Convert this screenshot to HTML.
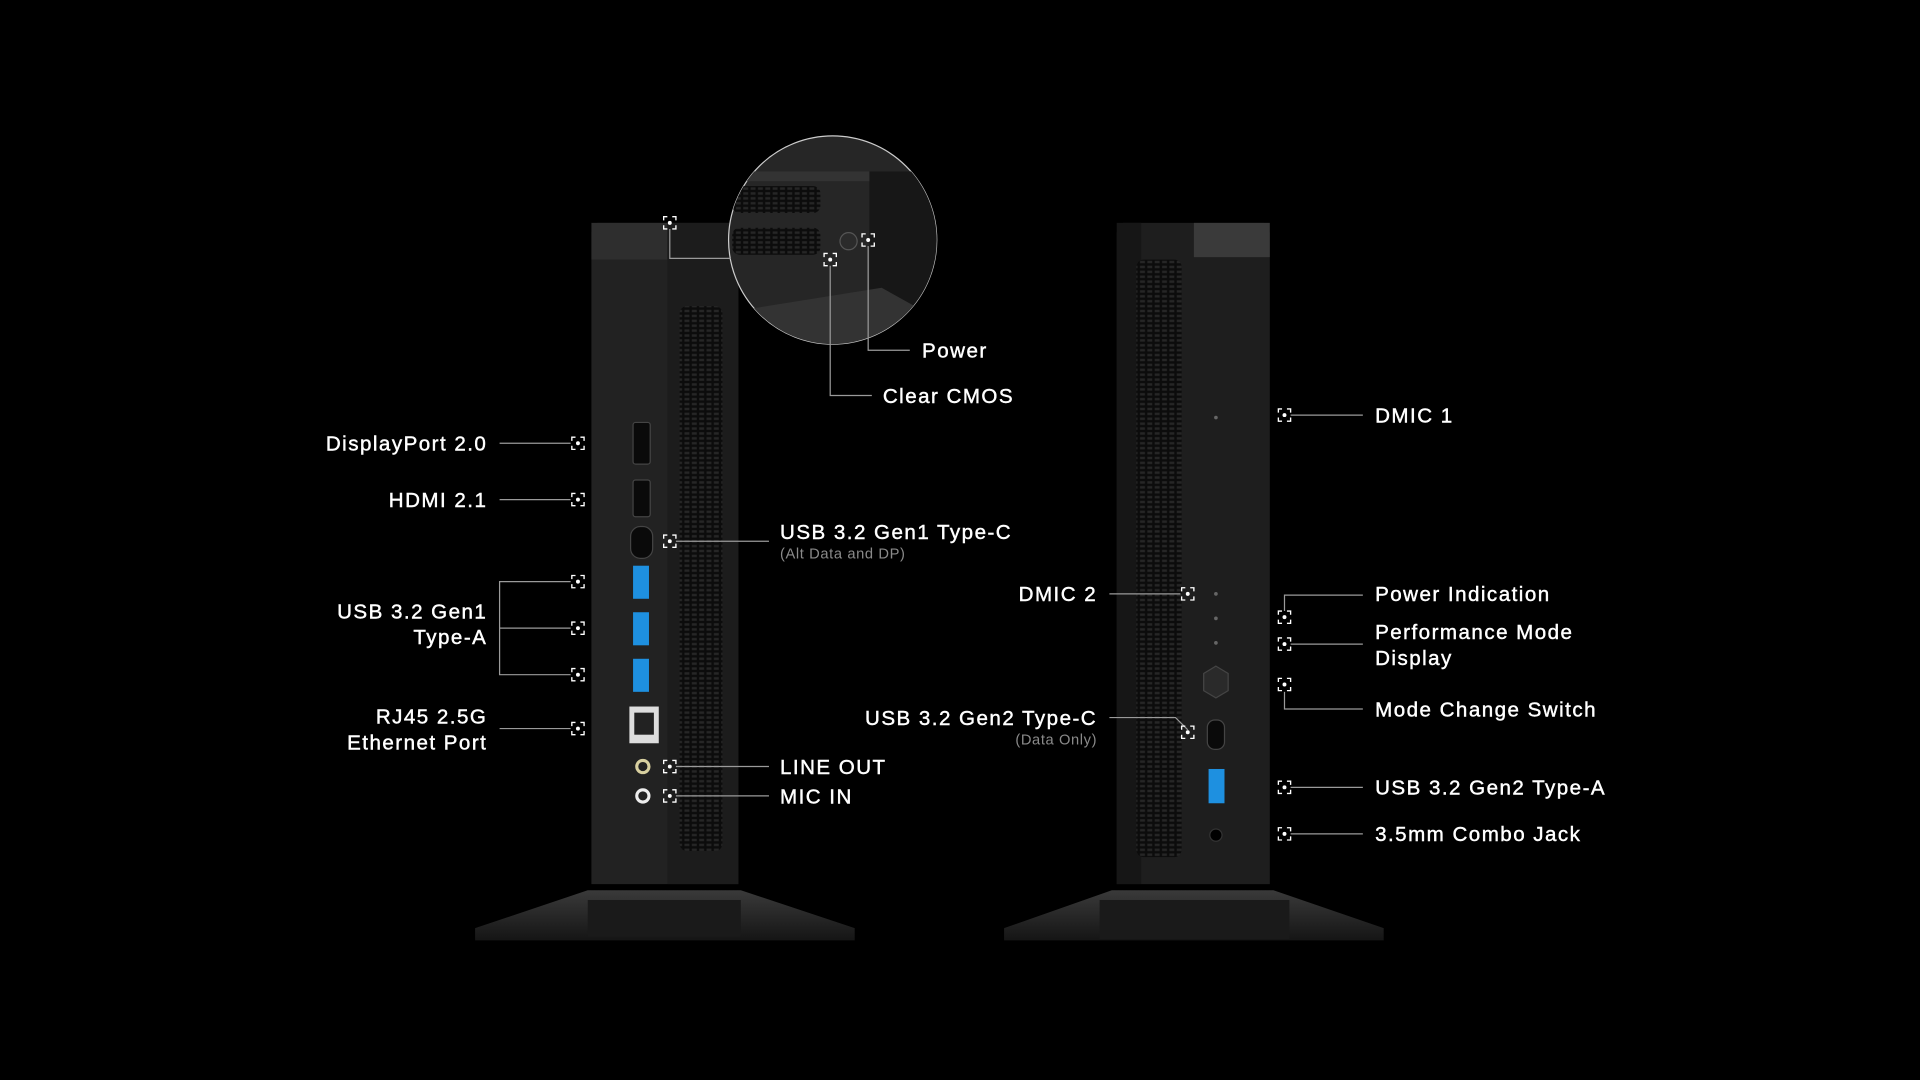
<!DOCTYPE html>
<html><head><meta charset="utf-8"><style>
html,body{margin:0;padding:0;background:#000;width:1920px;height:1080px;overflow:hidden}
svg{display:block}
text{font-family:"Liberation Sans",sans-serif;fill:#fff;font-size:16.8px;letter-spacing:1.2px;stroke:#fff;stroke-width:0.35px}
.s{fill:#8a8a8a;stroke:none;font-size:12px;letter-spacing:0.5px}
.l{stroke:#9a9a9a;stroke-width:1;fill:none}
</style></head><body>
<svg width="1920" height="1080" viewBox="0 0 1568 882" xmlns="http://www.w3.org/2000/svg">
<defs>
<symbol id="m" viewBox="-6 -6 12 12" overflow="visible">
<path d="M-5,-2 V-5 H-2 M2,-5 H5 V-2 M5,2 V5 H2 M-2,5 H-5 V2" stroke="#fff" stroke-width="1.1" fill="none"/>
<circle r="1.6" fill="#fff"/>
</symbol>
<pattern id="v" width="6" height="4" patternUnits="userSpaceOnUse">
<rect width="6" height="4" fill="#0c0c0c"/><rect x="1" y="1" width="4" height="2" fill="#262626"/>
</pattern>
<linearGradient id="bs" x1="0" y1="0" x2="0" y2="1"><stop offset="0" stop-color="#3a3a3a"/><stop offset="1" stop-color="#151515"/></linearGradient>
<clipPath id="c"><circle cx="680" cy="196" r="85"/></clipPath>
</defs>
<rect width="1568" height="882" fill="#000"/>

<!-- LEFT TOWER -->
<path d="M388,758 L480,727 L605,727 L698,758 L698,768 L388,768 Z" fill="url(#bs)"/>
<rect x="480" y="735" width="125" height="30" fill="#1a1a1a"/>
<path d="M488,182 L598,182 L603,190 L603,722 L483,722 L483,190 Z" fill="#222"/>
<rect x="483" y="182" width="62" height="30" fill="#2e2e2e"/>
<rect x="545" y="182" width="58" height="540" fill="#1c1c1c"/>
<rect x="555" y="250" width="35" height="445" rx="6" fill="url(#v)"/>
<g fill="#0a0a0a" stroke="#444" stroke-width="1">
<rect x="517" y="345" width="14" height="34" rx="2"/>
<rect x="517" y="392" width="14" height="30" rx="2"/>
<rect x="515" y="430" width="18" height="26" rx="8"/>
</g>
<g fill="#1e90e0"><rect x="517" y="462" width="13" height="27"/><rect x="517" y="500" width="13" height="27"/><rect x="517" y="538" width="13" height="27"/></g>
<rect x="514" y="577" width="24" height="30" fill="#ddd"/><rect x="518" y="582" width="16" height="18" fill="#222"/>
<circle cx="525" cy="626" r="5" fill="none" stroke="#d8d0a0" stroke-width="2.5"/>
<circle cx="525" cy="650" r="5" fill="none" stroke="#eee" stroke-width="2.5"/>

<!-- zoom circle -->
<circle cx="680" cy="196" r="85" fill="#262626" stroke="#ccc" stroke-width="1"/>
<g clip-path="url(#c)">
<rect x="595" y="140" width="170" height="8" fill="#333"/>
<rect x="598" y="152" width="72" height="22" rx="6" fill="url(#v)"/>
<rect x="598" y="186" width="72" height="22" rx="6" fill="url(#v)"/>
<rect x="710" y="140" width="60" height="120" fill="#171717"/>
<path d="M595,255 L720,235 L765,260 L765,290 L595,290Z" fill="#333"/>
<circle cx="693" cy="197" r="7" fill="#2b2b2b" stroke="#555"/>
</g>

<!-- RIGHT TOWER -->
<path d="M820,758 L908,727 L1040,727 L1130,758 L1130,768 L820,768 Z" fill="url(#bs)"/>
<rect x="898" y="735" width="155" height="32" fill="#1a1a1a"/>
<path d="M917,182 L1032,182 L1037,190 L1037,722 L912,722 L912,190 Z" fill="#1e1e1e"/>
<rect x="975" y="182" width="62" height="28" fill="#3a3a3a"/>
<rect x="912" y="182" width="20" height="540" fill="#161616"/>
<rect x="928" y="212" width="37" height="488" rx="6" fill="url(#v)"/>
<circle cx="993" cy="341" r="1.5" fill="#666"/><circle cx="993" cy="485" r="1.5" fill="#666"/>
<circle cx="993" cy="505" r="1.5" fill="#666"/><circle cx="993" cy="525" r="1.5" fill="#666"/>
<polygon points="993,544 1003,550 1003,564 993,570 983,564 983,550" fill="#2a2a2a" stroke="#444"/>
<rect x="986" y="588" width="14" height="24" rx="6" fill="#0a0a0a" stroke="#444"/>
<rect x="987" y="628" width="13" height="28" fill="#1e90e0"/>
<circle cx="993" cy="682" r="5" fill="#000" stroke="#333"/>

<g class="l">
<path d="M408,362 H466"/><path d="M408,408 H466"/>
<path d="M466,475 H408 V551 H466 M408,513 H466"/>
<path d="M408,595 H466"/>
<path d="M552,442 H628"/><path d="M552,626 H628"/><path d="M552,650 H628"/>
<path d="M547,187 V211 H597"/>
<path d="M678,217 V323 H712"/><path d="M709,201 V286 H743"/>
<path d="M1054,339 H1113"/>
<path d="M1049,499 V486 H1113"/><path d="M1054,526 H1113"/><path d="M1049,565 V579 H1113"/>
<path d="M1054,643 H1113"/><path d="M1054,681 H1113"/>
<path d="M906,485 H964"/><path d="M906,586 H960 L970,596"/>
</g>
<g>
<use href="#m" x="466" y="356" width="12" height="12"/>
<use href="#m" x="466" y="402" width="12" height="12"/>
<use href="#m" x="466" y="469" width="12" height="12"/>
<use href="#m" x="466" y="507" width="12" height="12"/>
<use href="#m" x="466" y="545" width="12" height="12"/>
<use href="#m" x="466" y="589" width="12" height="12"/>
<use href="#m" x="541" y="436" width="12" height="12"/>
<use href="#m" x="541" y="620" width="12" height="12"/>
<use href="#m" x="541" y="644" width="12" height="12"/>
<use href="#m" x="541" y="176" width="12" height="12"/>
<use href="#m" x="672" y="206" width="12" height="12"/>
<use href="#m" x="703" y="190" width="12" height="12"/>
<use href="#m" x="1043" y="333" width="12" height="12"/>
<use href="#m" x="964" y="479" width="12" height="12"/>
<use href="#m" x="1043" y="498" width="12" height="12"/>
<use href="#m" x="1043" y="520" width="12" height="12"/>
<use href="#m" x="1043" y="553" width="12" height="12"/>
<use href="#m" x="964" y="592" width="12" height="12"/>
<use href="#m" x="1043" y="637" width="12" height="12"/>
<use href="#m" x="1043" y="675" width="12" height="12"/>
</g>

<g text-anchor="end">
<text x="398" y="368">DisplayPort 2.0</text>
<text x="398" y="414">HDMI 2.1</text>
<text x="398" y="505">USB 3.2 Gen1</text>
<text x="398" y="526">Type-A</text>
<text x="398" y="591">RJ45 2.5G</text>
<text x="398" y="612">Ethernet Port</text>
<text x="896" y="491">DMIC 2</text>
<text x="896" y="592">USB 3.2 Gen2 Type-C</text>
<text class="s" x="896" y="608">(Data Only)</text>
</g>
<text x="753" y="292">Power</text>
<text x="721" y="329">Clear CMOS</text>
<text x="637" y="440">USB 3.2 Gen1 Type-C</text>
<text class="s" x="637" y="456">(Alt Data and DP)</text>
<text x="637" y="632">LINE OUT</text>
<text x="637" y="656">MIC IN</text>
<text x="1123" y="345">DMIC 1</text>
<text x="1123" y="491">Power Indication</text>
<text x="1123" y="522">Performance Mode</text>
<text x="1123" y="543">Display</text>
<text x="1123" y="585">Mode Change Switch</text>
<text x="1123" y="649">USB 3.2 Gen2 Type-A</text>
<text x="1123" y="687">3.5mm Combo Jack</text>
</svg>
</body></html>
